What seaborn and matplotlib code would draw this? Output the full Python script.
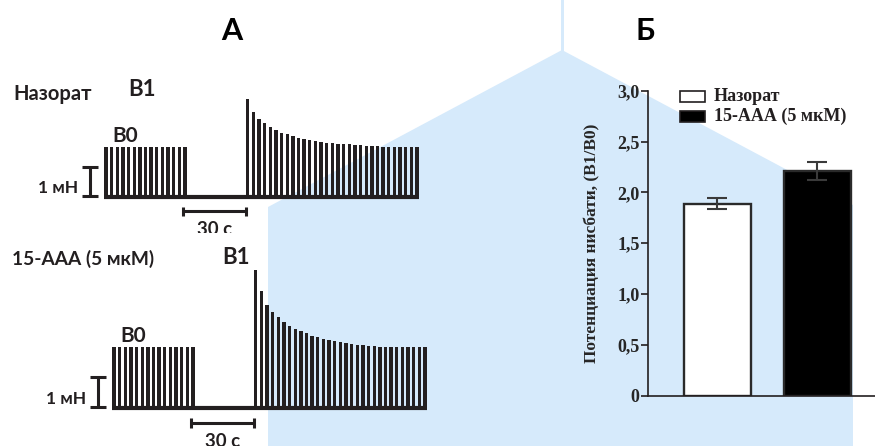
import numpy as np
import pandas as pd
import matplotlib
matplotlib.use("Agg")
import matplotlib.pyplot as plt
from matplotlib.patches import Polygon, Rectangle
import seaborn as sns

# panel A: twitch amplitudes (mN)
control_b0 = [1.71, 1.71, 1.71, 1.71, 1.71, 1.71, 1.71, 1.71, 1.71, 1.71, 1.71, 1.71, 1.71, 1.71, 1.71]
control_b1 = [3.37, 2.94, 2.68, 2.54, 2.41, 2.30, 2.21, 2.16, 2.10, 2.05, 2.01, 1.97, 1.93, 1.91, 1.87, 1.86,
              1.84, 1.83, 1.82, 1.80, 1.79, 1.77, 1.76, 1.75, 1.74, 1.72, 1.72, 1.71, 1.71, 1.71, 1.71]
aaa_b0 = [2.02, 2.02, 2.02, 2.02, 2.02, 2.02, 2.02, 2.02, 2.02, 2.02, 2.02, 2.02, 2.02, 2.02, 2.02]
aaa_b1 = [4.61, 3.91, 3.44, 3.20, 3.02, 2.87, 2.72, 2.63, 2.56, 2.49, 2.41, 2.36, 2.30, 2.27, 2.23, 2.20,
          2.17, 2.13, 2.10, 2.09, 2.07, 2.06, 2.04, 2.03, 2.03, 2.03, 2.02, 2.02, 2.02, 2.02, 2.02]
period_s = 2.7   # stimulation interval
rest_s = 30      # pause between B0 and B1

# panel B: potentiation ratio B1/B0
groups = ["Назорат", "15-ААА (5 мкМ)"]
ratio_mean = [1.89, 2.21]
ratio_sem = [0.05, 0.09]
yticks = [0, 0.5, 1.0, 1.5, 2.0, 2.5, 3.0]
ytick_labels = ["0", "0,5", "1,0", "1,5", "2,0", "2,5", "3,0"]

W, H = 875, 446
INK = "#231f20"
WATER = "#d6eafb"
SANS = ["Lato", "Open Sans", "DejaVu Sans"]
SERIF = ["Liberation Serif", "DejaVu Serif"]

sns.set_theme(style="white")
plt.rcParams["font.family"] = SANS

fig = plt.figure(figsize=(W / 100, H / 100), dpi=100)


def fx(x):
    return x / W


def fy(y):
    return 1 - y / H


def px_axes(x0, y0, x1, y1):
    return fig.add_axes([fx(x0), fy(y1), (x1 - x0) / W, (y1 - y0) / H])


# background watermark
fig.add_artist(Polygon([(fx(268), fy(H + 5)), (fx(268), fy(207)), (fx(562), fy(50)),
                        (fx(853), fy(205)), (fx(853), fy(H + 5))],
                       closed=True, transform=fig.transFigure, color=WATER, lw=0, zorder=-5))
fig.add_artist(Rectangle((fx(560.5), fy(52)), 3 / W, 52 / H, transform=fig.transFigure,
                         color=WATER, lw=0, zorder=-5))


def draw_trace(ax, b0, b1, x_origin, y_base, ppm, pps, region):
    x0, y0, x1, y1 = region
    ax.set_xlim((x0 - x_origin) / pps, (x1 - x_origin) / pps)
    ax.set_ylim((y_base - y1) / ppm, (y_base - y0) / ppm)
    ax.set_axis_off()
    t0 = np.arange(len(b0)) * period_s
    t1 = t0[-1] + rest_s + np.arange(len(b1)) * period_s
    ax.bar(t0, b0, width=1.6, color=INK, linewidth=0, align="center")
    ax.bar(t1, b1, width=1.6, color=INK, linewidth=0, align="center")
    ax.plot([t0[0] - 0.8, t1[-1] + 0.8], [0, 0], color=INK, lw=3, solid_capstyle="butt")
    # 30 s time bar
    ts = t0[-1] - 1
    ax.plot([ts, ts + rest_s], [-0.5, -0.5], color=INK, lw=2.2, solid_capstyle="butt")
    for t in (ts, ts + rest_s):
        ax.plot([t, t], [-0.67, -0.33], color=INK, lw=2.2, solid_capstyle="butt")
    ax.text(ts + rest_s / 2, -0.84, "30 с", ha="center", va="top", fontsize=13.5,
            fontweight="bold", color=INK, clip_on=True)
    # 1 mN scale bar
    sx = -7.5
    ax.plot([sx, sx], [0.05, 1.05], color=INK, lw=2.2, solid_capstyle="butt")
    for v in (0.05, 1.05):
        ax.plot([sx - 3.8, sx + 3.8], [v, v], color=INK, lw=2.2, solid_capstyle="butt")
    ax.text(sx - 6, 0.3, "1 мН", ha="right", va="center", fontsize=12.5, fontweight="bold", color=INK)
    ax.text(3, b0[0] + 0.17, "B0", ha="left", va="baseline", fontsize=15, fontweight="bold", color=INK)


ax_top = px_axes(0, 60, 440, 233)
draw_trace(ax_top, control_b0, control_b1, 106, 197, 29, 2.09, (0, 60, 440, 233))
ax_bot = px_axes(0, 236, 440, 446)
draw_trace(ax_bot, aaa_b0, aaa_b1, 114, 408, 30, 2.09, (0, 236, 440, 446))

fig.text(fx(13), fy(94), "Назорат", ha="left", va="center", fontsize=14.5, fontweight="bold", color=INK)
fig.text(fx(128), fy(90), "B1", ha="left", va="center", fontsize=16, fontweight="bold", color=INK)
fig.text(fx(12), fy(259), "15-ААА (5 мкМ)", ha="left", va="center", fontsize=13.8, fontweight="bold", color=INK)
fig.text(fx(222), fy(258), "B1", ha="left", va="center", fontsize=16, fontweight="bold", color=INK)
fig.text(fx(232), fy(31), "А", ha="center", va="center", fontsize=22, fontweight="bold", color="black")
fig.text(fx(645), fy(31), "Б", ha="center", va="center", fontsize=22, fontweight="bold", color="black")

# panel B
df = pd.DataFrame({"group": groups, "ratio": ratio_mean})
axb = px_axes(648, 90.7, 900, 395.7)
axb.set_facecolor("none")
sns.barplot(data=df, x="group", y="ratio", hue="group", palette=["white", "black"],
            width=0.67, edgecolor="#2a2a2a", linewidth=1.7, errorbar=None, legend=False, ax=axb)
axb.errorbar(x=[0, 1], y=ratio_mean, yerr=ratio_sem, fmt="none", ecolor="#3a3a3a",
             elinewidth=1.5, capsize=7, capthick=1.5)
axb.set_xlim(-0.69, 1.83)
axb.set_ylim(0, 3.0)
axb.set_yticks(yticks, ytick_labels, fontfamily=SERIF, fontweight="bold", fontsize=13)
axb.tick_params(axis="y", length=5, width=1.2, pad=1, direction="out", left=True, color=INK)
axb.tick_params(axis="x", length=0, labelbottom=False)
axb.set_xlabel("")
axb.set_ylabel("Потенциация нисбати, (В1/В0)", fontfamily=SERIF, fontweight="bold", fontsize=12.5)
axb.yaxis.set_label_coords(-0.19, 0.5)
sns.despine(ax=axb)
for s in ("left", "bottom"):
    axb.spines[s].set_linewidth(1.2)
    axb.spines[s].set_color(INK)

# legend drawn as boxes + labels
for (ytop, fill, label) in [(90.7, "white", groups[0]), (111, "black", groups[1])]:
    fig.add_artist(Rectangle((fx(680), fy(ytop + 11)), 25 / W, 11 / H, transform=fig.transFigure,
                             facecolor=fill, edgecolor=INK, lw=1.2))
    fig.text(fx(714), fy(ytop + 5.5), label, ha="left", va="center", fontfamily=SERIF,
             fontweight="bold", fontsize=13, color=INK)

fig.savefig("out.png", dpi=100)
